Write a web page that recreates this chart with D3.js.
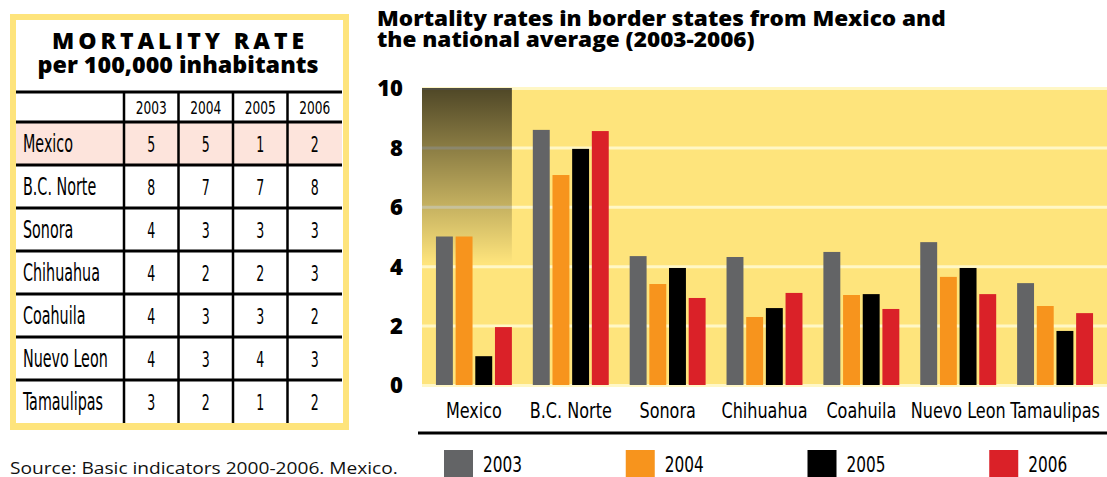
<!DOCTYPE html>
<html>
<head>
<meta charset="utf-8">
<script src="https://cdn.jsdelivr.net/npm/d3@7"></script>
<style>
  body { margin: 0; background: #fff; }
  svg { display: block; }
</style>
</head>
<body>
<svg id="chart" width="1107" height="477"></svg>
<script>
const regions = ['Mexico', 'B.C. Norte', 'Sonora', 'Chihuahua', 'Coahuila', 'Nuevo Leon', 'Tamaulipas'];
const years = ['2003', '2004', '2005', '2006'];

// bar values
const rate2003 = [5.0, 8.59, 4.34, 4.31, 4.48, 4.81, 3.43];
const rate2004 = [5.0, 7.07, 3.40, 2.29, 3.03, 3.64, 2.66];
const rate2005 = [0.97, 7.95, 3.94, 2.59, 3.06, 3.94, 1.82];
const rate2006 = [1.95, 8.55, 2.93, 3.10, 2.56, 3.06, 2.42];

// rounded values printed in the table
const tableRows = [
  [5, 5, 1, 2],
  [8, 7, 7, 8],
  [4, 3, 3, 3],
  [4, 2, 2, 3],
  [4, 3, 3, 2],
  [4, 3, 4, 3],
  [3, 2, 1, 2],
];

const yTicks = [0, 2, 4, 6, 8, 10];
const colors = ['#636466', '#f7941d', '#000000', '#da2128'];

const data = regions.map((r, i) => ({
  region: r,
  values: [rate2003[i], rate2004[i], rate2005[i], rate2006[i]],
}));

const svg = d3.select('#chart');
const narrow = "'Liberation Sans Narrow', 'DejaVu Sans Condensed', 'Roboto', sans-serif";
const bold = "'Open Sans', 'DejaVu Sans', sans-serif";
const yellow = '#fee47c';

// squeeze text horizontally so a reference node matches a target width
function squeeze(sel, refNode, target) {
  const k = target / refNode.getComputedTextLength();
  sel.each(function () {
    const t = d3.select(this);
    const x = +t.attr('x') || 0, y = +t.attr('y') || 0;
    t.attr('x', 0).attr('y', 0).attr('transform', `translate(${x},${y}) scale(${k},1)`);
  });
  return k;
}

// ---------- table ----------
const table = svg.append('g').attr('class', 'table');
table.append('rect').attr('x', 10).attr('y', 14).attr('width', 339).attr('height', 416).attr('fill', yellow);
table.append('rect').attr('x', 16).attr('y', 20).attr('width', 327).attr('height', 403).attr('fill', '#fff');

table.append('text')
  .attr('x', 178).attr('y', 49)
  .attr('text-anchor', 'middle')
  .attr('font-family', bold).attr('font-weight', 800).attr('font-size', 23)
  .attr('textLength', 252).attr('lengthAdjust', 'spacing')
  .text('MORTALITY RATE');
table.append('text')
  .attr('x', 178).attr('y', 73)
  .attr('text-anchor', 'middle')
  .attr('font-family', bold).attr('font-weight', 800).attr('font-size', 22)
  .attr('textLength', 281).attr('lengthAdjust', 'spacingAndGlyphs')
  .text('per 100,000 inhabitants');

const rowY = d3.scaleBand().domain(regions).range([122, 423]);
const colX = d3.scaleBand().domain(years).range([124, 342]);

table.append('rect')
  .attr('x', 16).attr('y', rowY('Mexico'))
  .attr('width', 326).attr('height', rowY.bandwidth())
  .attr('fill', '#fde4dc');

table.append('g').selectAll('line')
  .data([92].concat(regions.map(r => rowY(r))))
  .join('line')
  .attr('x1', 16).attr('x2', 342)
  .attr('y1', d => d).attr('y2', d => d)
  .attr('stroke', '#000').attr('stroke-width', 3);

table.append('g').selectAll('line')
  .data(years)
  .join('line')
  .attr('x1', d => colX(d)).attr('x2', d => colX(d))
  .attr('y1', 92).attr('y2', 423)
  .attr('stroke', '#000').attr('stroke-width', 2.5);

const headTexts = table.append('g').selectAll('text')
  .data(years)
  .join('text')
  .attr('x', d => colX(d) + colX.bandwidth() / 2)
  .attr('y', 114)
  .attr('text-anchor', 'middle')
  .attr('font-family', narrow).attr('font-size', 17)
  .text(d => d);
squeeze(headTexts, headTexts.node(), 31);

const rowLabels = table.append('g').selectAll('text')
  .data(regions)
  .join('text')
  .attr('x', 23)
  .attr('y', d => rowY(d) + rowY.bandwidth() / 2 + 8.5)
  .attr('font-family', narrow).attr('font-size', 24)
  .text(d => d);
const kLab = squeeze(rowLabels, rowLabels.node(), 50);

table.append('g').selectAll('text')
  .data(tableRows.flatMap((row, i) => row.map((v, j) => ({ r: regions[i], y: years[j], v }))))
  .join('text')
  .attr('text-anchor', 'middle')
  .attr('font-family', narrow).attr('font-size', 21)
  .attr('transform', d => `translate(${colX(d.y) + colX.bandwidth() / 2},${rowY(d.r) + rowY.bandwidth() / 2 + 8.5}) scale(${kLab},1)`)
  .text(d => d.v);

const source = svg.append('text')
  .attr('x', 10).attr('y', 474)
  .attr('font-family', "'Open Sans', sans-serif").attr('font-size', 17)
  .attr('fill', '#111')
  .text('Source: Basic indicators 2000-2006. Mexico.');
squeeze(source, source.node(), 388);

// ---------- bar chart ----------
const pLeft = 422, pRight = 1107, pTop = 88, pBottom = 385;

const title = svg.append('g').selectAll('text')
  .data(['Mortality rates in border states from Mexico and', 'the national average (2003-2006)'])
  .join('text')
  .attr('x', 377)
  .attr('y', (d, i) => 26 + i * 21)
  .attr('font-family', bold).attr('font-weight', 800).attr('font-size', 21)
  .text(d => d);
squeeze(title, title.node(), 569);

const x0 = d3.scaleBand().domain(regions).range([pLeft, pRight]).paddingInner(0.216).paddingOuter(0.144);
const x1 = d3.scaleBand().domain(years).range([0, x0.bandwidth()]).paddingInner(0.14);
const y = d3.scaleLinear().domain([0, 10]).range([pBottom, pTop]);

svg.append('rect')
  .attr('x', pLeft).attr('y', pTop)
  .attr('width', pRight - pLeft).attr('height', pBottom - pTop)
  .attr('fill', yellow);

svg.append('g')
  .attr('transform', `translate(${pLeft},0)`)
  .call(d3.axisLeft(y).tickValues(yTicks).tickSize(-(pRight - pLeft)).tickFormat(''))
  .call(g => g.select('.domain').remove())
  .call(g => g.selectAll('.tick line').attr('stroke', '#fff7c6').attr('stroke-width', 3));

// dark shading over the national group
const defs = svg.append('defs');
const grad = defs.append('linearGradient')
  .attr('id', 'shade').attr('x1', 0).attr('x2', 0).attr('y1', 0).attr('y2', 1);
grad.append('stop').attr('offset', '0%').attr('stop-color', '#000').attr('stop-opacity', 0.69);
grad.append('stop').attr('offset', '100%').attr('stop-color', '#000').attr('stop-opacity', 0);

svg.append('rect')
  .attr('x', pLeft).attr('y', pTop)
  .attr('width', x0('Mexico') + x0.bandwidth() - pLeft)
  .attr('height', y(4.1) - pTop)
  .attr('fill', 'url(#shade)');

svg.append('g')
  .selectAll('g')
  .data(data)
  .join('g')
  .attr('transform', d => `translate(${x0(d.region)},0)`)
  .selectAll('rect')
  .data(d => d.values.map((v, i) => ({ year: years[i], v, c: colors[i] })))
  .join('rect')
  .attr('x', d => x1(d.year))
  .attr('y', d => y(d.v))
  .attr('width', x1.bandwidth())
  .attr('height', d => y(0) - y(d.v))
  .attr('fill', d => d.c);

svg.append('g')
  .attr('transform', `translate(${pLeft},0)`)
  .call(d3.axisLeft(y).tickValues(yTicks).tickSize(0).tickPadding(19))
  .call(g => g.select('.domain').remove())
  .call(g => g.selectAll('text')
    .attr('font-family', bold).attr('font-weight', 800).attr('font-size', 22)
    .attr('fill', '#000').attr('dy', '0.36em'));

const xAxis = svg.append('g')
  .attr('transform', `translate(0,${pBottom})`)
  .call(d3.axisBottom(x0).tickSize(0))
  .call(g => g.select('.domain').remove());
const xLabels = xAxis.selectAll('text')
  .attr('font-family', narrow).attr('font-size', 21).attr('fill', '#000')
  .attr('dy', 0).attr('y', 33);
squeeze(xLabels, xLabels.node(), 56);

svg.append('line')
  .attr('x1', 418).attr('x2', pRight)
  .attr('y1', 433).attr('y2', 433)
  .attr('stroke', '#000').attr('stroke-width', 3);

// legend
const legX = d3.scaleBand().domain(years).range([444, 1171]);
const leg = svg.append('g').selectAll('g')
  .data(years)
  .join('g')
  .attr('transform', d => `translate(${legX(d)},450)`);
leg.append('rect')
  .attr('width', 29).attr('height', 27)
  .attr('fill', (d, i) => colors[i]);
const legText = leg.append('text')
  .attr('x', 39).attr('y', 22)
  .attr('font-family', narrow).attr('font-size', 22)
  .text(d => d);
squeeze(legText, legText.node(), 39);
</script>
</body>
</html>
